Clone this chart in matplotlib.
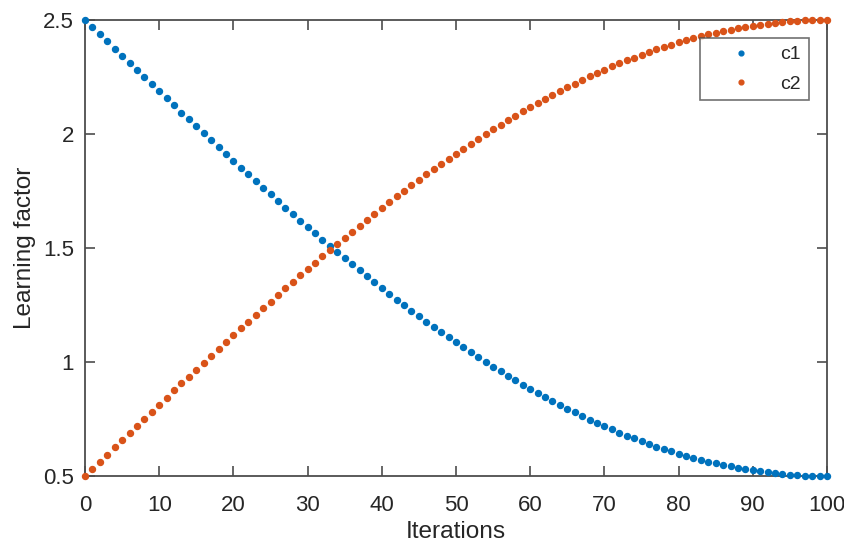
import matplotlib
matplotlib.use("Agg")
import matplotlib.pyplot as plt

plt.rcParams['font.family'] = ['Liberation Sans', 'DejaVu Sans']

iterations = list(range(0, 101))
c1 = [2.500, 2.469, 2.437, 2.406, 2.374, 2.343, 2.312, 2.281, 2.249, 2.218,
      2.187, 2.156, 2.125, 2.094, 2.064, 2.033, 2.003, 1.972, 1.942, 1.912,
      1.882, 1.852, 1.823, 1.793, 1.764, 1.735, 1.706, 1.677, 1.648, 1.620,
      1.592, 1.564, 1.537, 1.509, 1.482, 1.455, 1.428, 1.402, 1.376, 1.350,
      1.324, 1.299, 1.274, 1.250, 1.225, 1.201, 1.177, 1.154, 1.131, 1.108,
      1.086, 1.064, 1.042, 1.021, 1.000, 0.979, 0.959, 0.939, 0.920, 0.901,
      0.882, 0.864, 0.846, 0.828, 0.811, 0.795, 0.779, 0.763, 0.747, 0.732,
      0.718, 0.704, 0.690, 0.677, 0.665, 0.652, 0.640, 0.629, 0.618, 0.608,
      0.598, 0.588, 0.579, 0.571, 0.563, 0.555, 0.548, 0.542, 0.535, 0.530,
      0.525, 0.520, 0.516, 0.512, 0.509, 0.506, 0.504, 0.502, 0.501, 0.500,
      0.500]
c2 = [0.500, 0.531, 0.563, 0.594, 0.626, 0.657, 0.688, 0.719, 0.751, 0.782,
      0.813, 0.844, 0.875, 0.906, 0.936, 0.967, 0.997, 1.028, 1.058, 1.088,
      1.118, 1.148, 1.177, 1.207, 1.236, 1.265, 1.294, 1.323, 1.352, 1.380,
      1.408, 1.436, 1.463, 1.491, 1.518, 1.545, 1.572, 1.598, 1.624, 1.650,
      1.676, 1.701, 1.726, 1.750, 1.775, 1.799, 1.823, 1.846, 1.869, 1.892,
      1.914, 1.936, 1.958, 1.979, 2.000, 2.021, 2.041, 2.061, 2.080, 2.099,
      2.118, 2.136, 2.154, 2.172, 2.189, 2.205, 2.221, 2.237, 2.253, 2.268,
      2.282, 2.296, 2.310, 2.323, 2.335, 2.348, 2.360, 2.371, 2.382, 2.392,
      2.402, 2.412, 2.421, 2.429, 2.437, 2.445, 2.452, 2.458, 2.465, 2.470,
      2.475, 2.480, 2.484, 2.488, 2.491, 2.494, 2.496, 2.498, 2.499, 2.500,
      2.500]
series_names = ["c1", "c2"]
x_ticks = [0, 10, 20, 30, 40, 50, 60, 70, 80, 90, 100]
y_ticks = [0.5, 1, 1.5, 2, 2.5]
y_tick_labels = ["0.5", "1", "1.5", "2", "2.5"]

axis_col = '#4d4d4d'
text_col = '#262626'

fig = plt.figure(figsize=(8.45, 5.43), dpi=100)
ax = fig.add_axes([0.1006, 0.1234, 0.8781, 0.8398])

ax.plot(iterations, c1, linestyle='none', marker='o', markersize=4.3,
        color='#0072BD', label=series_names[0], clip_on=False, zorder=3)
ax.plot(iterations, c2, linestyle='none', marker='o', markersize=4.3,
        color='#D95319', label=series_names[1], clip_on=False, zorder=3)

ax.set_xlim(0, 100)
ax.set_ylim(0.5, 2.5)
ax.set_xticks(x_ticks)
ax.set_yticks(y_ticks)
ax.set_yticklabels(y_tick_labels)

ax.tick_params(axis='both', direction='in', length=7, width=1.2,
               colors=axis_col, labelcolor=text_col, labelsize=16,
               top=True, right=True)
ax.tick_params(axis='x', pad=13.5)
ax.tick_params(axis='y', pad=8)
for s in ax.spines.values():
    s.set_color(axis_col)
    s.set_linewidth(1.3)

ax.set_xlabel("Iterations", fontsize=17.6, color=text_col, labelpad=4)
ax.set_ylabel("Learning factor", fontsize=17.6, color=text_col, labelpad=5)

leg = ax.legend(loc='upper right', bbox_to_anchor=(0.9757, 0.9605),
                fontsize=14, frameon=True, fancybox=False, markerscale=0.8,
                handlelength=3.4, handletextpad=0.32, borderpad=0.4,
                labelspacing=0.6, borderaxespad=0)
leg.get_frame().set_edgecolor(axis_col)
leg.get_frame().set_linewidth(1.2)
for t in leg.get_texts():
    t.set_color(text_col)

fig.savefig("out.png", dpi=100)
